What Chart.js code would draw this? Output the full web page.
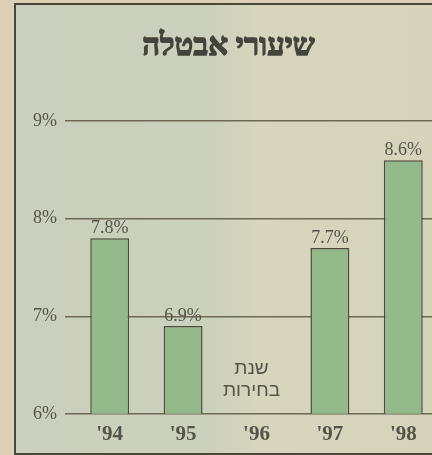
<!DOCTYPE html>
<html>
<head>
<meta charset="utf-8">
<script src="https://cdn.jsdelivr.net/npm/chart.js@4"></script>
<style>
  html, body { margin: 0; padding: 0; }
  body { width: 432px; height: 455px; overflow: hidden; background: #dccfb6; position: relative; }
  #frame {
    position: absolute; left: 14px; top: 3px; width: 440px; height: 448px;
    border: 2px solid #4a4638;
    background: linear-gradient(90deg, #cad0bd 0%, #ccd1bd 45%, #d7d5bd 55%, #d6d3bb 100%);
  }
  #wrap { position: absolute; left: 0; top: 0; width: 430px; height: 448px; }
</style>
</head>
<body>
<div id="frame"><div id="wrap"><canvas id="chart"></canvas></div></div>
<script>
// data
const years = ["'94", "'95", "'96", "'97", "'98"];
const rates = [7.8, 6.9, null, 7.7, 8.6];
const yTicks = [6, 7, 8, 9];
const titleText = "שיעורי אבטלה";
const noteYear = "'96";
const noteLines = ["שנת", "בחירות"];
const noteLevels = [6.46, 6.235];

const ink = "#4d4a3e";
const textGray = "#55544a";
const serif = "'Liberation Serif', 'DejaVu Serif', serif";

// title drawn with a stroke so the hebrew glyphs look heavy like the print
const heavyTitle = {
  id: "heavyTitle",
  afterDraw(chart) {
    const tb = chart.titleBlock;
    const ctx = chart.ctx;
    ctx.save();
    ctx.font = "bold 31px " + serif;
    ctx.textAlign = "center";
    ctx.textBaseline = "middle";
    ctx.fillStyle = "#45443c";
    ctx.strokeStyle = "#45443c";
    ctx.lineWidth = 1.3;
    ctx.lineJoin = "round";
    const x = (chart.chartArea.left + chart.chartArea.right) / 2 - 28;
    const y = tb.top + tb.options.padding.top + 18;
    ctx.fillText(titleText, x, y);
    ctx.strokeText(titleText, x, y);
    ctx.restore();
  }
};

// value labels above the bars + the note for the missing year
const barLabels = {
  id: "barLabels",
  afterDatasetsDraw(chart) {
    const ctx = chart.ctx;
    const meta = chart.getDatasetMeta(0);
    ctx.save();
    ctx.fillStyle = textGray;
    ctx.font = "18px " + serif;
    ctx.textAlign = "center";
    ctx.textBaseline = "bottom";
    meta.data.forEach((bar, i) => {
      const v = rates[i];
      if (v == null) return;
      ctx.fillText(v.toFixed(1) + "%", bar.x, bar.y - 1);
    });
    const x = chart.scales.x.getPixelForValue(years.indexOf(noteYear)) - 5;
    ctx.font = "19px 'Liberation Sans', 'DejaVu Sans', sans-serif";
    ctx.textBaseline = "middle";
    noteLines.forEach((t, i) => {
      ctx.fillText(t, x, chart.scales.y.getPixelForValue(noteLevels[i]));
    });
    ctx.restore();
  }
};

new Chart(document.getElementById("chart"), {
  type: "bar",
  plugins: [barLabels, heavyTitle],
  data: {
    labels: years,
    datasets: [{
      data: rates,
      backgroundColor: "#94b98a",
      borderColor: ink,
      borderWidth: 1.5,
      categoryPercentage: 1,
      barPercentage: 0.53
    }]
  },
  options: {
    responsive: true,
    maintainAspectRatio: false,
    animation: false,
    layout: { padding: { left: 0, right: 6, top: 0, bottom: 6 } },
    plugins: {
      legend: { display: false },
      tooltip: { enabled: false },
      title: {
        display: true,
        text: titleText,
        color: "rgba(0,0,0,0)",
        font: { family: serif, size: 31, weight: "bold" },
        padding: { top: 24, bottom: 55 }
      }
    },
    scales: {
      x: {
        grid: { display: false },
        border: { display: false },
        ticks: {
          color: textGray,
          padding: 0,
          font: { family: serif, size: 21, weight: "bold" }
        }
      },
      y: {
        min: 6,
        max: 9,
        afterFit: (s) => { s.width = 57; },
        afterBuildTicks: (s) => { s.ticks = yTicks.map(v => ({ value: v })); },
        border: { display: false },
        grid: { color: "#6c6853", lineWidth: 1.5, tickLength: 8, drawTicks: true },
        ticks: {
          color: textGray,
          padding: 8,
          font: { family: serif, size: 18 },
          callback: (v) => v + "%"
        }
      }
    }
  }
});
</script>
</body>
</html>
